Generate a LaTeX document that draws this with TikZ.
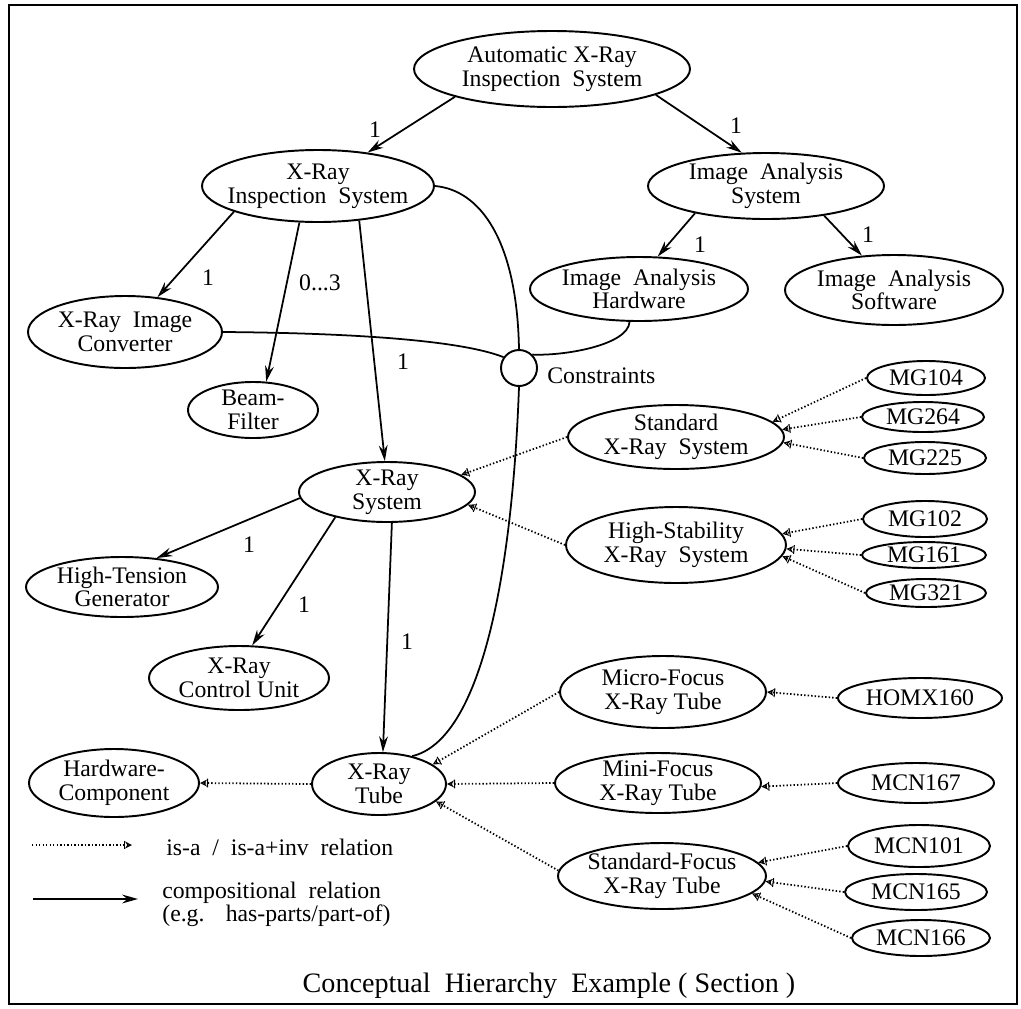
\documentclass[tikz,border=0pt]{standalone}
\usepackage{fontspec}
\setmainfont{Liberation Serif}
\usetikzlibrary{shapes.geometric,arrows.meta}
\newdimen\px \px=0.02cm
\newcommand\wgap{\hspace{0.5em}}
\begin{document}
\begin{tikzpicture}[x=0.02cm,y=-0.02cm,
  ent/.style={ellipse,draw,line width=1.1pt,inner sep=0pt},
  lbl/.style={font=\fontsize{13.5}{13.5}\selectfont,align=center,inner sep=0pt},
  txt/.style={font=\fontsize{13.5}{13}\selectfont,inner sep=0pt},
  part/.style={line width=1pt,-{Stealth[length=9pt,width=5pt,fill=gray!45]}},
  isa/.style={line width=1pt,dash pattern=on 0.8pt off 1.2pt,
    -{Bar[width=5pt,line width=0.6pt] Stealth[length=4pt,width=4pt,open,line width=0.6pt]}},
  link/.style={line width=1pt},
]
\useasboundingbox (0,0) rectangle (1021,1008);
\draw[line width=1.2pt] (9,5) rectangle (1017,1004);

% concepts
\node[ent,minimum width=276\px,minimum height=76\px,label={[lbl]center:Automatic X-Ray\\Inspection\wgap System}] (ais) at (552,69) {};
\node[ent,minimum width=232\px,minimum height=72\px,label={[lbl]center:X-Ray\\Inspection\wgap System}] (xis) at (318,186) {};
\node[ent,minimum width=236\px,minimum height=66\px,label={[lbl]center:Image\wgap Analysis\\System}] (ias) at (766,186) {};
\node[ent,minimum width=218\px,minimum height=64\px,label={[lbl]center:Image\wgap Analysis\\Hardware}] (iah) at (639,289) {};
\node[ent,minimum width=218\px,minimum height=70\px,label={[lbl]center:Image\wgap Analysis\\Software}] (isw) at (894,290) {};
\node[ent,minimum width=194\px,minimum height=72\px,label={[lbl]center:X-Ray\wgap Image\\Converter}] (conv) at (125,332) {};
\node[ent,minimum width=130\px,minimum height=56\px,label={[lbl]center:Beam-\\Filter}] (beam) at (253,410) {};
\node[circle,draw,line width=1.1pt,minimum size=36\px,inner sep=0pt] (cons) at (519,368) {};
\node[txt,anchor=west] (conslbl) at (547,376) {Constraints};
\node[ent,minimum width=176\px,minimum height=60\px,label={[lbl]center:X-Ray\\System}] (xrs) at (387,492) {};
\node[ent,minimum width=216\px,minimum height=64\px,label={[lbl]center:Standard\\X-Ray\wgap System}] (sxs) at (676,437) {};
\node[ent,minimum width=220\px,minimum height=76\px,label={[lbl]center:High-Stability\\X-Ray\wgap System}] (hss) at (676,545) {};
\node[ent,minimum width=118\px,minimum height=34\px,label={[lbl]center:MG104}] (mg104) at (926,378) {};
\node[ent,minimum width=122\px,minimum height=30\px,label={[lbl]center:MG264}] (mg264) at (923,417) {};
\node[ent,minimum width=122\px,minimum height=32\px,label={[lbl]center:MG225}] (mg225) at (925,458) {};
\node[ent,minimum width=124\px,minimum height=36\px,label={[lbl]center:MG102}] (mg102) at (925,519) {};
\node[ent,minimum width=124\px,minimum height=26\px,label={[lbl]center:MG161}] (mg161) at (924,555) {};
\node[ent,minimum width=120\px,minimum height=28\px,label={[lbl]center:MG321}] (mg321) at (926,593) {};
\node[ent,minimum width=192\px,minimum height=60\px,label={[lbl]center:High-Tension\\Generator}] (htg) at (122,587) {};
\node[ent,minimum width=180\px,minimum height=64\px,label={[lbl]center:X-Ray\\Control Unit}] (xcu) at (239,678) {};
\node[ent,minimum width=134\px,minimum height=62\px,label={[lbl]center:X-Ray\\Tube}] (tube) at (379,784) {};
\node[ent,minimum width=170\px,minimum height=68\px,label={[lbl]center:Hardware-\\Component}] (hwc) at (114,783) {};
\node[ent,minimum width=206\px,minimum height=72\px,label={[lbl]center:Micro-Focus\\X-Ray Tube}] (mfx) at (663,692) {};
\node[ent,minimum width=164\px,minimum height=40\px,label={[lbl]center:HOMX160}] (homx) at (920,698) {};
\node[ent,minimum width=206\px,minimum height=60\px,label={[lbl]center:Mini-Focus\\X-Ray Tube}] (mnf) at (658,783) {};
\node[ent,minimum width=156\px,minimum height=40\px,label={[lbl]center:MCN167}] (mcn167) at (916,783) {};
\node[ent,minimum width=208\px,minimum height=66\px,label={[lbl]center:Standard-Focus\\X-Ray Tube}] (sfx) at (662,876) {};
\node[ent,minimum width=142\px,minimum height=42\px,label={[lbl]center:MCN101}] (mcn101) at (919,846) {};
\node[ent,minimum width=142\px,minimum height=36\px,label={[lbl]center:MCN165}] (mcn165) at (916,892) {};
\node[ent,minimum width=138\px,minimum height=36\px,label={[lbl]center:MCN166}] (mcn166) at (921,938) {};

% compositional relations
\draw[part] (ais.196) -- (xis.34);
\draw[part] (ais.346) -- (ias.126);
\draw[part] (xis.197) -- (conv.47);
\draw[part] (xis.243) -- (beam.65);
\draw[part] (xis.320) -- (xrs.94);
\draw[part] (ias.201) -- (iah.60);
\draw[part] (ias.333) -- (isw.133);
\draw[part] (xrs.184) -- (htg.40);
\draw[part] (xrs.206) -- (xcu.68);
\draw[part] (xrs.279) -- (tube.83);

% cardinalities
\node[txt] (c1) at (375,130) {1};
\node[txt] (c2) at (736,126) {1};
\node[txt] (c3) at (208,278) {1};
\node[txt] (c4) at (320,283) {0...3};
\node[txt] (c5) at (403,362) {1};
\node[txt] (c6) at (700,245) {1};
\node[txt] (c7) at (868,235) {1};
\node[txt] (c8) at (249,545) {1};
\node[txt] (c9) at (304,605) {1};
\node[txt] (c10) at (407,642) {1};

% constraint links
\draw[link] (xis.east) .. controls (480,190) and (517,240) .. (cons.north);
\draw[link] (cons.south) .. controls (512,580) and (480,740) .. (tube.40);
\draw[link] (conv.east) .. controls (350,333) and (460,340) .. (cons.145);
\draw[link] (iah.254) .. controls (628,345) and (565,356) .. (cons.45);

% is-a relations
\draw[isa] (sxs.west) -- (xrs.13);
\draw[isa] (hss.west) -- (xrs.351);
\draw[isa] (mg104.west) -- (sxs.9);
\draw[isa] (mg264.west) -- (sxs.4);
\draw[isa] (mg225.west) -- (sxs.357);
\draw[isa] (mg102.west) -- (hss.6);
\draw[isa] (mg161.west) -- (hss.358);
\draw[isa] (mg321.west) -- (hss.354);
\draw[isa] (mfx.west) -- (tube.20);
\draw[isa] (mnf.west) -- (tube.0);
\draw[isa] (sfx.177) -- (tube.343);
\draw[isa] (homx.west) -- (mfx.0);
\draw[isa] (mcn167.west) -- (mnf.358);
\draw[isa] (mcn101.west) -- (sfx.8);
\draw[isa] (mcn165.west) -- (sfx.357);
\draw[isa] (mcn166.west) -- (sfx.349);
\draw[isa] (tube.west) -- (hwc.east);

% legend
\coordinate (k1a) at (32,845);
\coordinate (k1b) at (132,845);
\coordinate (k2a) at (33,899);
\coordinate (k2b) at (138,899);
\draw[isa] (k1a) -- (k1b);
\draw[part] (k2a) -- (k2b);
\node[txt,anchor=west] (k1) at (166,847) {is-a\wgap/\wgap is-a+inv\wgap relation};
\node[txt,anchor=west,align=left] (k2) at (162,904) {compositional\wgap relation\\(e.g.\hspace{0.9em}has-parts/part-of)};

% caption
\node[font=\fontsize{16}{16}\selectfont,inner sep=0pt] (title) at (549,986) {Conceptual\wgap Hierarchy\wgap Example ( Section )};
\end{tikzpicture}
\end{document}
